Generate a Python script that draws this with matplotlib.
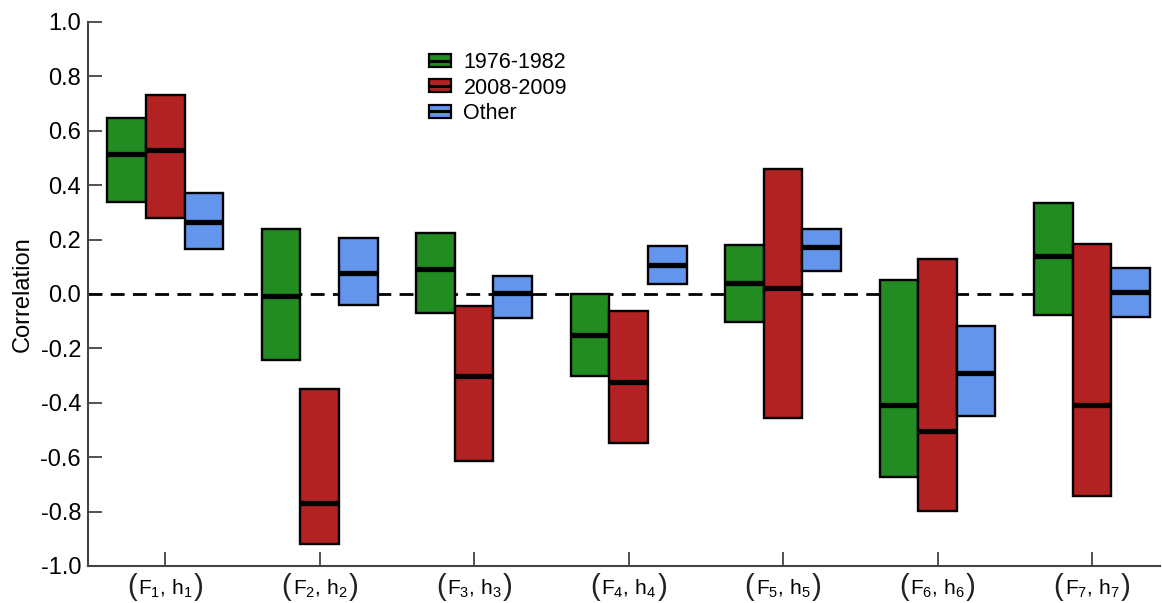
import matplotlib
matplotlib.use("Agg")
import matplotlib.pyplot as plt
import numpy as np
from matplotlib.patches import Rectangle
from matplotlib.lines import Line2D
from matplotlib.legend_handler import HandlerBase
from matplotlib.offsetbox import TextArea, HPacker, AnnotationBbox

plt.rcParams['font.family'] = ['Liberation Sans', 'DejaVu Sans']
plt.rcParams['mathtext.fontset'] = 'custom'
plt.rcParams['mathtext.rm'] = 'Liberation Sans'
plt.rcParams['mathtext.it'] = 'Liberation Sans:italic'
plt.rcParams['mathtext.bf'] = 'Liberation Sans:bold'

groups = [1, 2, 3, 4, 5, 6, 7]
tick_inner = [r"F$_{%d}$, h$_{%d}$" % (i, i) for i in groups]
series = ["1976-1982", "2008-2009", "Other"]
colors = ["#228B22", "#B22222", "#6495ED"]
ytick_vals = [-1.0, -0.8, -0.6, -0.4, -0.2, 0.0, 0.2, 0.4, 0.6, 0.8, 1.0]
ytick_labels = ["-1.0", "-0.8", "-0.6", "-0.4", "-0.2", "0.0", "0.2", "0.4", "0.6", "0.8", "1.0"]

green_low = [0.338, -0.243, -0.070, -0.301, -0.103, -0.673, -0.077]
green_high = [0.647, 0.239, 0.224, 0.000, 0.180, 0.051, 0.335]
green_med = [0.515, -0.007, 0.092, -0.151, 0.040, -0.408, 0.140]

red_low = [0.280, -0.919, -0.614, -0.548, -0.456, -0.798, -0.743]
red_high = [0.732, -0.349, -0.044, -0.063, 0.460, 0.129, 0.184]
red_med = [0.530, -0.768, -0.301, -0.324, 0.022, -0.504, -0.408]

blue_low = [0.165, -0.040, -0.088, 0.037, 0.085, -0.449, -0.085]
blue_high = [0.371, 0.206, 0.066, 0.176, 0.239, -0.118, 0.096]
blue_med = [0.265, 0.077, 0.004, 0.107, 0.173, -0.290, 0.007]

lows = [green_low, red_low, blue_low]
highs = [green_high, red_high, blue_high]
meds = [green_med, red_med, blue_med]

fig = plt.figure(figsize=(11.62, 6.03), dpi=100)
ax = fig.add_axes([88/1162, 37/603, (1160-88)/1162, (566-22)/603])

width = 0.25
offsets = [-0.25, 0.0, 0.25]
x = np.array(groups, dtype=float)
for k in range(3):
    lo = np.array(lows[k]); hi = np.array(highs[k]); md = np.array(meds[k])
    xs = x + offsets[k]
    ax.bar(xs, hi - lo, bottom=lo, width=width, color=colors[k],
           edgecolor='black', linewidth=1.7, zorder=3)
    ax.hlines(md, xs - width/2, xs + width/2, colors='black', linewidth=3.8, zorder=4)

ax.axhline(0, color='black', linestyle=(0, (5, 3)), linewidth=2.0, zorder=2,
           xmin=0, xmax=0.99)

ax.set_xlim(0.5, 7.44)
ax.set_ylim(-1.0, 1.0)
ax.set_yticks(ytick_vals)
ax.set_yticklabels(ytick_labels, fontsize=17)
ax.set_xticks(groups)
ax.set_xticklabels([])
ax.tick_params(axis='both', direction='in', length=10, width=1.2, colors='#333333',
               labelcolor='black')
ax.tick_params(axis='y', pad=5)
for s in ['top', 'right']:
    ax.spines[s].set_visible(False)
for s in ['left', 'bottom']:
    ax.spines[s].set_linewidth(1.5)
    ax.spines[s].set_color('#444444')
ax.set_ylabel("Correlation", fontsize=17, labelpad=5)

# x tick labels with tall parentheses
for g, inner in zip(groups, tick_inner):
    kids = [TextArea("(", textprops=dict(fontsize=21, color='#222222')),
            TextArea(inner, textprops=dict(fontsize=15)),
            TextArea(")", textprops=dict(fontsize=21, color='#222222'))]
    box = HPacker(children=kids, align="baseline", pad=0, sep=1)
    ab = AnnotationBbox(box, (g, 0), xycoords=ax.get_xaxis_transform(),
                        box_alignment=(0.5, 1.0), frameon=False,
                        xybox=(0, -5), boxcoords="offset points",
                        annotation_clip=False, pad=0)
    ax.add_artist(ab)


class BoxHandler(HandlerBase):
    def __init__(self, color):
        super().__init__()
        self.color = color

    def create_artists(self, legend, orig_handle, xdescent, ydescent, width, height, fontsize, trans):
        r = Rectangle((-xdescent, -ydescent), width, height, facecolor=self.color,
                      edgecolor='black', linewidth=1.6, transform=trans)
        l = Line2D([-xdescent, -xdescent + width], [-ydescent + height/2]*2, color='black',
                   linewidth=2.2, solid_capstyle='butt', transform=trans)
        return [r, l]


handles = [Rectangle((0, 0), 1, 1) for _ in series]
hmap = {h: BoxHandler(c) for h, c in zip(handles, colors)}
leg = ax.legend(handles, series, handler_map=hmap, loc='upper left',
                bbox_to_anchor=(0.3, 0.98), frameon=False, fontsize=15.5,
                handlelength=1.0, handleheight=0.55, handletextpad=0.6, labelspacing=0.2)

fig.savefig("out.png", dpi=100)
